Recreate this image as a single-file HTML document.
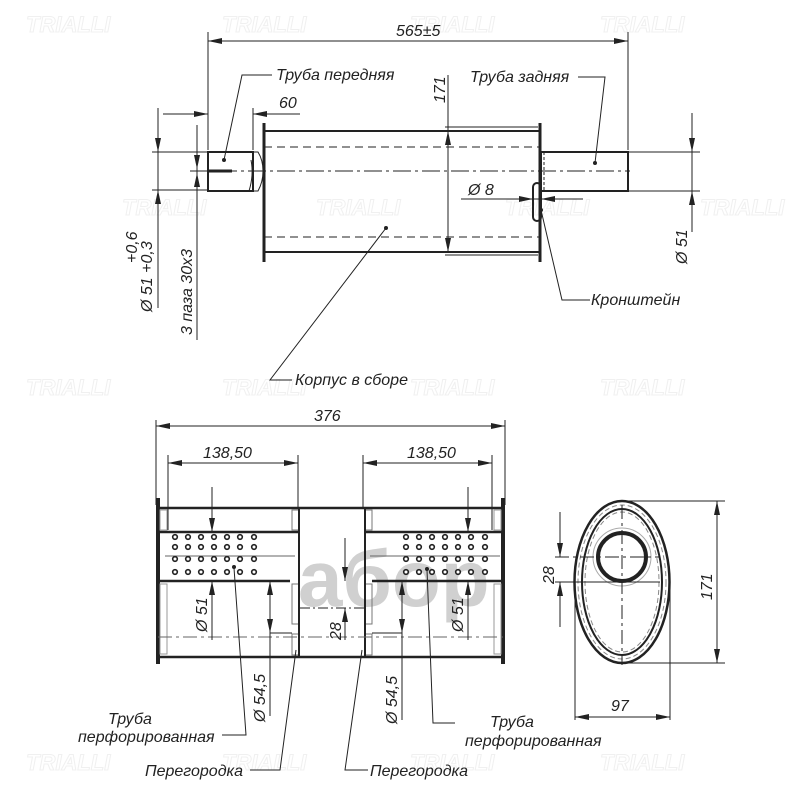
<!DOCTYPE html>
<html><head><meta charset="utf-8"><style>
html,body{margin:0;padding:0;background:#fff}
svg{display:block}
text{font-family:"Liberation Sans","DejaVu Sans",sans-serif;font-style:italic;fill:#222}
</style></head><body>
<svg width="800" height="800" viewBox="0 0 800 800" xmlns="http://www.w3.org/2000/svg">
<defs>
<marker id="a" viewBox="0 0 14 6" refX="14" refY="3" markerWidth="14" markerHeight="6" markerUnits="userSpaceOnUse" orient="auto-start-reverse"><path d="M0,0 L14,3 L0,6 Z" fill="#222"/></marker>
</defs>
<!-- watermark -->
<g font-size="22" font-style="normal" font-weight="bold" style="fill:none;stroke:#f0f0f0;stroke-width:1">
<text x="26" y="32" style="fill:none">TRIALLI</text><text x="222" y="32" style="fill:none">TRIALLI</text><text x="410" y="32" style="fill:none">TRIALLI</text><text x="600" y="32" style="fill:none">TRIALLI</text>
<text x="122" y="215" style="fill:none">TRIALLI</text><text x="316" y="215" style="fill:none">TRIALLI</text><text x="505" y="215" style="fill:none">TRIALLI</text><text x="700" y="215" style="fill:none">TRIALLI</text>
<text x="26" y="395" style="fill:none">TRIALLI</text><text x="222" y="395" style="fill:none">TRIALLI</text><text x="410" y="395" style="fill:none">TRIALLI</text><text x="600" y="395" style="fill:none">TRIALLI</text>
<text x="26" y="770" style="fill:none">TRIALLI</text><text x="222" y="770" style="fill:none">TRIALLI</text><text x="410" y="770" style="fill:none">TRIALLI</text><text x="600" y="770" style="fill:none">TRIALLI</text>
</g>
<text x="298" y="606" font-size="80" font-weight="bold" style="fill:#d0d0d0;font-style:normal">aбop</text>

<g stroke="#222" fill="none" stroke-width="1">
<line x1="208" y1="32" x2="208" y2="150"/>
<line x1="628" y1="32" x2="628" y2="150"/>
<line x1="208" y1="41" x2="628" y2="41" marker-start="url(#a)" marker-end="url(#a)"/>
<rect x="208" y="152" width="45" height="39" stroke-width="2"/>
<path d="M253,152 L258,152 Q263,160 263,171 Q263,182 258,191 L253,191" />
<path d="M251,160 Q254,175 249,191"/>
<line x1="208" y1="171" x2="232" y2="171" stroke-width="3"/>
<line x1="264" y1="123" x2="264" y2="262" stroke-width="3"/>
<line x1="540" y1="123" x2="540" y2="262" stroke-width="3"/>
<line x1="264" y1="131" x2="540" y2="131" stroke-width="2"/>
<line x1="264" y1="252" x2="540" y2="252" stroke-width="2"/>
<line x1="264" y1="147" x2="540" y2="147" stroke-dasharray="8,5"/>
<line x1="264" y1="237" x2="540" y2="237" stroke-dasharray="8,5"/>
<line x1="190" y1="171" x2="630" y2="171" stroke-dasharray="18,4,3,4"/>
<rect x="541" y="152" width="87" height="39" stroke-width="2"/>
<line x1="544" y1="152" x2="544" y2="191" stroke-dasharray="3,2"/>
<rect x="533" y="183" width="8" height="38" rx="4" stroke-width="2"/>
<line x1="208" y1="114" x2="163" y2="114" marker-start="url(#a)"/>
<line x1="253" y1="114" x2="300" y2="114" marker-start="url(#a)"/>
<line x1="253" y1="108" x2="253" y2="150"/>
<line x1="448" y1="75" x2="448" y2="252" />
<line x1="448" y1="131" x2="448" y2="252" marker-start="url(#a)" marker-end="url(#a)"/>
<line x1="445" y1="127" x2="538" y2="127"/>
<line x1="445" y1="255" x2="538" y2="255"/>
<line x1="461" y1="199" x2="583" y2="199"/>
<line x1="510" y1="199" x2="533" y2="199" marker-end="url(#a)"/>
<line x1="565" y1="199" x2="541" y2="199" marker-end="url(#a)"/>
<line x1="152" y1="152" x2="208" y2="152"/>
<line x1="152" y1="190" x2="208" y2="190"/>
<line x1="158" y1="108" x2="158" y2="308"/>
<line x1="158" y1="128" x2="158" y2="152" marker-end="url(#a)"/>
<line x1="158" y1="212" x2="158" y2="190" marker-end="url(#a)"/>
<line x1="197" y1="125" x2="197" y2="340"/>
<line x1="190" y1="171" x2="208" y2="171"/>
<line x1="197" y1="148" x2="197" y2="169" marker-end="url(#a)"/>
<line x1="197" y1="192" x2="197" y2="173" marker-end="url(#a)"/>
<line x1="628" y1="152" x2="700" y2="152"/>
<line x1="628" y1="191" x2="700" y2="191"/>
<line x1="692" y1="113" x2="692" y2="232"/>
<line x1="692" y1="128" x2="692" y2="152" marker-end="url(#a)"/>
<line x1="692" y1="215" x2="692" y2="191" marker-end="url(#a)"/>
<polyline points="272,75 242,75 224,160"/>
<polyline points="578,77 605,77 595,163"/>
<polyline points="590,300 562,300 541,210"/>
<polyline points="292,380 270,380 386,228"/>

<line x1="156" y1="420" x2="156" y2="505"/>
<line x1="505" y1="420" x2="505" y2="505"/>
<line x1="156" y1="426" x2="505" y2="426" marker-start="url(#a)" marker-end="url(#a)"/>
<line x1="168" y1="455" x2="168" y2="530"/>
<line x1="298" y1="455" x2="298" y2="508"/>
<line x1="168" y1="463" x2="298" y2="463" marker-start="url(#a)" marker-end="url(#a)"/>
<line x1="363" y1="455" x2="363" y2="508"/>
<line x1="492" y1="455" x2="492" y2="530"/>
<line x1="363" y1="463" x2="492" y2="463" marker-start="url(#a)" marker-end="url(#a)"/>
<line x1="158" y1="498" x2="158" y2="664" stroke-width="4"/>
<line x1="503" y1="498" x2="503" y2="664" stroke-width="4"/>
<line x1="158" y1="508" x2="503" y2="508" stroke-width="2.5"/>
<line x1="158" y1="657" x2="503" y2="657" stroke-width="2.5"/>
<rect x="160" y="510" width="7" height="20" stroke="#999"/>
<rect x="160" y="584" width="7" height="70" stroke="#999"/>
<rect x="494" y="510" width="7" height="20" stroke="#999"/>
<rect x="494" y="584" width="7" height="70" stroke="#999"/>
<rect x="292" y="510" width="7" height="20" stroke="#777"/>
<rect x="292" y="584" width="7" height="40" stroke="#777"/>
<rect x="292" y="634" width="7" height="21" stroke="#777"/>
<rect x="365" y="510" width="7" height="20" stroke="#777"/>
<rect x="365" y="584" width="7" height="40" stroke="#777"/>
<rect x="365" y="634" width="7" height="21" stroke="#777"/>
<line x1="299" y1="508" x2="299" y2="657" stroke-width="2"/>
<line x1="365" y1="508" x2="365" y2="657" stroke-width="2"/>
<line x1="158" y1="532" x2="299" y2="532" stroke-width="2.5"/>
<line x1="158" y1="581" x2="290" y2="581" stroke-width="2.5"/>
<line x1="365" y1="532" x2="503" y2="532" stroke-width="2.5"/>
<line x1="372" y1="581" x2="503" y2="581" stroke-width="2.5"/>
<line x1="165" y1="556" x2="295" y2="556" stroke="#666"/>
<line x1="370" y1="556" x2="500" y2="556" stroke="#666"/>
<line x1="158" y1="637" x2="503" y2="637" stroke-dasharray="14,4,3,4" stroke="#666"/>
<line x1="212" y1="487" x2="212" y2="532" marker-end="url(#a)"/>
<line x1="212" y1="640" x2="212" y2="581" marker-end="url(#a)"/>
<line x1="468" y1="487" x2="468" y2="532" marker-end="url(#a)"/>
<line x1="468" y1="640" x2="468" y2="581" marker-end="url(#a)"/>
<line x1="270" y1="581" x2="270" y2="716"/>
<line x1="270" y1="605" x2="270" y2="581" marker-end="url(#a)"/>
<line x1="270" y1="610" x2="270" y2="633" marker-end="url(#a)"/>
<line x1="402" y1="581" x2="402" y2="720"/>
<line x1="402" y1="605" x2="402" y2="581" marker-end="url(#a)"/>
<line x1="402" y1="610" x2="402" y2="633" marker-end="url(#a)"/>
<line x1="270" y1="633" x2="292" y2="633"/>
<line x1="372" y1="633" x2="402" y2="633"/>
<line x1="345" y1="538" x2="345" y2="581" marker-end="url(#a)"/>
<line x1="345" y1="640" x2="345" y2="608" marker-end="url(#a)"/>
<line x1="300" y1="608" x2="365" y2="608" stroke-dasharray="10,3,2,3"/>
<polyline points="222,735 246,735 234,568"/>
<polyline points="250,770 280,770 296,650"/>
<polyline points="368,770 345,770 362,650"/>
<polyline points="455,723 433,723 427,570"/>

<ellipse cx="622" cy="582" rx="47.5" ry="81" stroke-width="2.5"/>
<ellipse cx="622" cy="582" rx="44" ry="77" stroke="#888" stroke-dasharray="5,3"/>
<ellipse cx="622" cy="582" rx="40" ry="73" stroke-width="2"/>
<ellipse cx="622" cy="582" rx="37" ry="70" stroke="#888" stroke-dasharray="5,3"/>
<circle cx="622" cy="557" r="24" stroke-width="4"/>
<circle cx="622" cy="557" r="29" stroke="#aaa"/>
<line x1="622" y1="505" x2="622" y2="665" stroke-dasharray="14,4,3,4"/>
<line x1="555" y1="557" x2="660" y2="557" stroke-dasharray="14,4,3,4"/>
<line x1="555" y1="582" x2="660" y2="582"/>
<line x1="622" y1="501" x2="725" y2="501"/>
<line x1="622" y1="663" x2="725" y2="663"/>
<line x1="717" y1="501" x2="717" y2="663" marker-start="url(#a)" marker-end="url(#a)"/>
<line x1="575" y1="582" x2="575" y2="720"/>
<line x1="670" y1="582" x2="670" y2="720"/>
<line x1="575" y1="717" x2="670" y2="717" marker-start="url(#a)" marker-end="url(#a)"/>
<line x1="560" y1="512" x2="560" y2="557" marker-end="url(#a)"/>
<line x1="560" y1="627" x2="560" y2="582" marker-end="url(#a)"/>
</g>
<g stroke="#222" stroke-width="1.6" fill="#fff">
<g id="h">
<circle cx="175" cy="537" r="2.3"/><circle cx="188" cy="537" r="2.3"/><circle cx="201" cy="537" r="2.3"/><circle cx="214" cy="537" r="2.3"/><circle cx="227" cy="537" r="2.3"/><circle cx="240" cy="537" r="2.3"/><circle cx="254" cy="537" r="2.3"/>
<circle cx="175" cy="547" r="2.3"/><circle cx="188" cy="547" r="2.3"/><circle cx="201" cy="547" r="2.3"/><circle cx="214" cy="547" r="2.3"/><circle cx="227" cy="547" r="2.3"/><circle cx="240" cy="547" r="2.3"/><circle cx="254" cy="547" r="2.3"/>
<circle cx="175" cy="559" r="2.3"/><circle cx="188" cy="559" r="2.3"/><circle cx="201" cy="559" r="2.3"/><circle cx="214" cy="559" r="2.3"/><circle cx="227" cy="559" r="2.3"/><circle cx="240" cy="559" r="2.3"/><circle cx="254" cy="559" r="2.3"/>
<circle cx="175" cy="572" r="2.3"/><circle cx="188" cy="572" r="2.3"/><circle cx="201" cy="572" r="2.3"/><circle cx="214" cy="572" r="2.3"/><circle cx="227" cy="572" r="2.3"/><circle cx="240" cy="572" r="2.3"/><circle cx="254" cy="572" r="2.3"/>
</g>
<use href="#h" transform="translate(231,0)"/>
</g>
<g fill="#222">
<circle cx="224" cy="160" r="2"/><circle cx="595" cy="163" r="2"/><circle cx="386" cy="228" r="2"/><circle cx="541" cy="210" r="2"/>
<circle cx="234" cy="567" r="2"/><circle cx="427" cy="569" r="2"/>
</g>
<g font-size="16">
<text x="396" y="36">565±5</text>
<text x="276" y="80">Труба передняя</text>
<text x="470" y="82">Труба задняя</text>
<text x="279" y="108">60</text>
<text x="591" y="305">Кронштейн</text>
<text x="295" y="385">Корпус в сборе</text>
<text x="468" y="195">Ø 8</text>
<text transform="translate(445,103) rotate(-90)">171</text>
<text transform="translate(687,264) rotate(-90)">Ø 51</text>
<text transform="translate(152,312) rotate(-90)">Ø 51 +0,3</text>
<text transform="translate(137,263) rotate(-90)">+0,6</text>
<text transform="translate(192,335) rotate(-90)">3 паза 30х3</text>
<text x="314" y="421">376</text>
<text x="203" y="458">138,50</text>
<text x="407" y="458">138,50</text>
<text transform="translate(207,632) rotate(-90)">Ø 51</text>
<text transform="translate(463,632) rotate(-90)">Ø 51</text>
<text transform="translate(265,722) rotate(-90)">Ø 54,5</text>
<text transform="translate(397,724) rotate(-90)">Ø 54,5</text>
<text transform="translate(341,640) rotate(-90)">28</text>
<text transform="translate(554,584) rotate(-90)">28</text>
<text transform="translate(712,600) rotate(-90)">171</text>
<text x="611" y="711">97</text>
<text x="108" y="724">Труба</text>
<text x="78" y="742">перфорированная</text>
<text x="145" y="776">Перегородка</text>
<text x="370" y="776">Перегородка</text>
<text x="490" y="727">Труба</text>
<text x="465" y="746">перфорированная</text>
</g>
</svg>
</body></html>
